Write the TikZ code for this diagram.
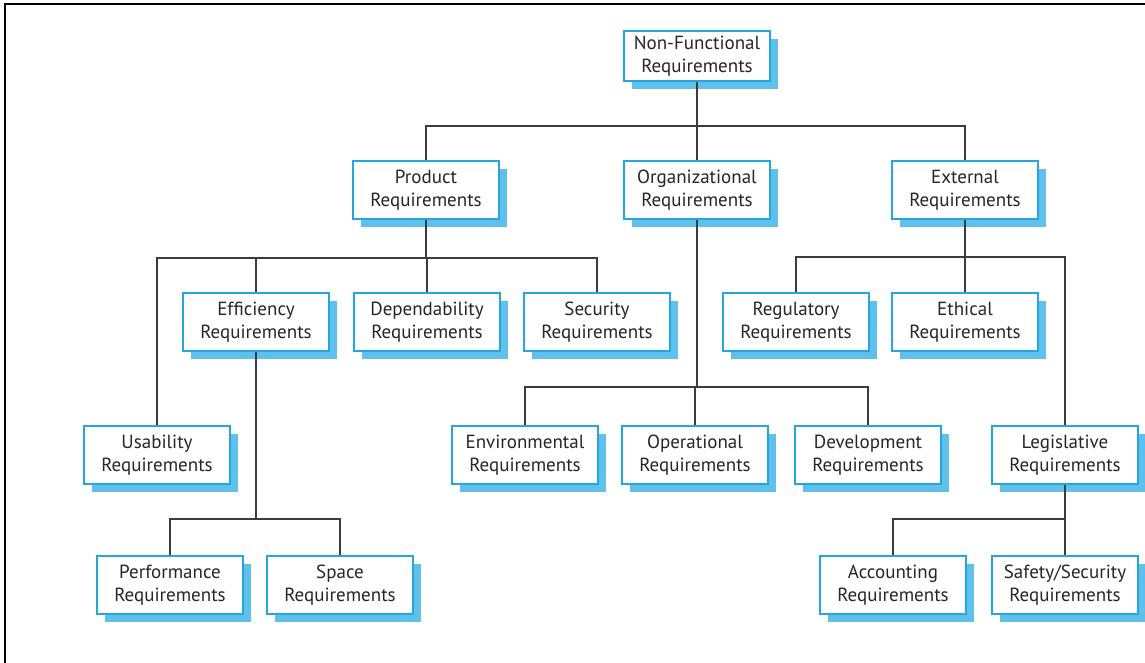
\documentclass[tikz,border=0pt]{standalone}
\usepackage{fontspec}
\setmainfont{PT Sans}
\usepackage{xcolor}
\usepackage{tikz}
\usetikzlibrary{positioning,shadows}

\definecolor{boxblue}{RGB}{38,166,222}
\definecolor{shadowblue}{RGB}{96,192,236}
\definecolor{linegray}{RGB}{60,60,60}

\tikzset{
  reqbox/.style={draw=boxblue, line width=1.4pt, fill=white, align=center,
    minimum width=73pt, minimum height=29pt, inner sep=2pt,
    font=\fontsize{9.5}{11.5}\selectfont\color{black!85},
    drop shadow={shadow xshift=4pt, shadow yshift=-4pt, fill=shadowblue, opacity=1}},
  link/.style={draw=linegray, line width=0.7pt}
}

\begin{document}
\begin{tikzpicture}[x=0.5pt, y=-0.5pt]
\useasboundingbox (0,0) rectangle (1145,663);
\draw[line width=1.2pt] (5,663) -- (5,4) -- (1145,4);

% top level
\node[reqbox, minimum height=25pt] (nf) at (697,56) {Non-Functional\\Requirements};
\node[reqbox] (prod) at (426,190) {Product\\Requirements};
\node[reqbox] (org) at (697,190) {Organizational\\Requirements};
\node[reqbox] (ext) at (965,190) {External\\Requirements};

% second level
\node[reqbox] (eff) at (256,322) {Efficiency\\Requirements};
\node[reqbox] (dep) at (427,322) {Dependability\\Requirements};
\node[reqbox] (sec) at (597,322) {Security\\Requirements};
\node[reqbox] (reg) at (796,322) {Regulatory\\Requirements};
\node[reqbox] (eth) at (965,322) {Ethical\\Requirements};

% third level
\node[reqbox] (usa) at (157,455) {Usability\\Requirements};
\node[reqbox] (env) at (525,455) {Environmental\\Requirements};
\node[reqbox] (opr) at (695,455) {Operational\\Requirements};
\node[reqbox] (dev) at (868,455) {Development\\Requirements};
\node[reqbox] (leg) at (1065,455) {Legislative\\Requirements};

% fourth level
\node[reqbox] (perf) at (170,585) {Performance\\Requirements};
\node[reqbox] (space) at (340,585) {Space\\Requirements};
\node[reqbox] (acc) at (893,585) {Accounting\\Requirements};
\node[reqbox] (safe) at (1065,585) {Safety/Security\\Requirements};

% bars
\coordinate (barnf) at (0,126);
\coordinate (barprod) at (0,258);
\coordinate (barext) at (0,257);
\coordinate (barorg) at (0,387);
\coordinate (bareff) at (0,519);
\coordinate (barleg) at (0,519);

\foreach \c in {prod,org,ext}
  \draw[link] (nf.south) -- (nf.south |- barnf) -| (\c.north);
\foreach \c in {usa,eff,dep,sec}
  \draw[link] (prod.south) -- (prod.south |- barprod) -| (\c.north);
\foreach \c in {reg,eth,leg}
  \draw[link] (ext.south) -- (ext.south |- barext) -| (\c.north);
\foreach \c in {env,opr,dev}
  \draw[link] (org.south) -- (org.south |- barorg) -| (\c.north);
\foreach \c in {perf,space}
  \draw[link] (eff.south) -- (eff.south |- bareff) -| (\c.north);
\foreach \c in {acc,safe}
  \draw[link] (leg.south) -- (leg.south |- barleg) -| (\c.north);
\end{tikzpicture}
\end{document}
